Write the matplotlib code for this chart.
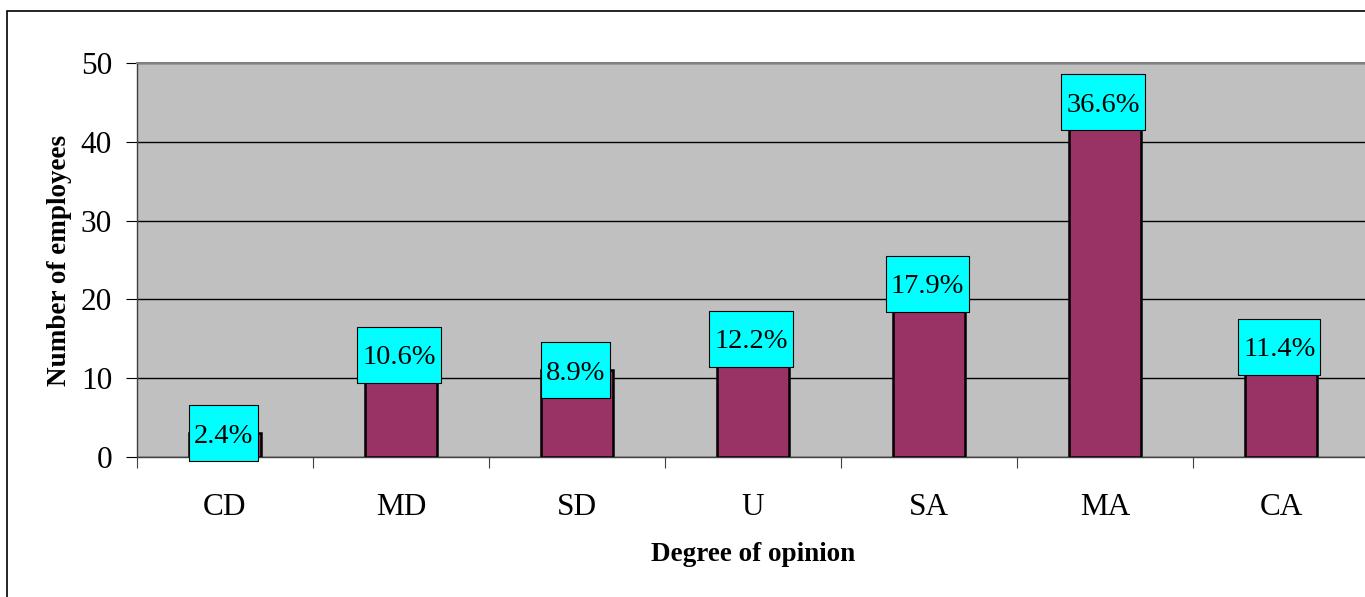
import matplotlib.pyplot as plt
from matplotlib.patches import Rectangle

# survey counts per degree of opinion (N = 123)
categories = ["CD", "MD", "SD", "U", "SA", "MA", "CA"]
counts = [3, 13, 11, 15, 22, 45, 14]
pct_labels = ["2.4%", "10.6%", "8.9%", "12.2%", "17.9%", "36.6%", "11.4%"]

plt.rcParams['font.family'] = ['Liberation Serif', 'DejaVu Serif']

W, H = 1365, 597
fig = plt.figure(figsize=(W / 100, H / 100), dpi=100)

# outer chart frame (cut off on the right and bottom)
fig.patches.append(Rectangle((7 / W, -0.1), 1.2, 1.1 - 11 / H,
                             transform=fig.transFigure, fill=False,
                             edgecolor="black", linewidth=1.2))

left, right, top, bottom = 137, 1369, 63, 457
ax = fig.add_axes([left / W, 1 - bottom / H, (right - left) / W, (bottom - top) / H])
ax.set_facecolor("#C0C0C0")

x = list(range(len(categories)))
ax.bar(x, counts, width=0.41, color="#993366", edgecolor="black",
       linewidth=1.8, zorder=3)

texts = []
for xi, c, lab in zip(x, counts, pct_labels):
    t = ax.text(xi - 0.01, c, lab, ha="center", va="center_baseline",
                fontsize=20.5, zorder=5)
    texts.append(t)

ax.set_xlim(-0.5, len(categories) - 0.5)
ax.set_ylim(0, 50)
ax.set_yticks([0, 10, 20, 30, 40, 50])
ax.yaxis.grid(True, color="black", linewidth=1.0, zorder=1)
ax.set_axisbelow(True)

ax.set_xticks(x)
ax.set_xticklabels(categories, fontsize=22.5)
ax.tick_params(axis="x", length=0, pad=26)
ax.set_xticks([i - 0.5 for i in range(len(categories) + 1)], minor=True)
ax.tick_params(axis="x", which="minor", length=8, width=0.8, color="#404040")
ax.tick_params(axis="y", labelsize=22.5, length=8, width=0.8, pad=10)

for s in ["left", "bottom"]:
    ax.spines[s].set_color("#404040")
    ax.spines[s].set_linewidth(1.0)
ax.spines["top"].set_color("#808080")
ax.spines["top"].set_linewidth(1.5)
ax.spines["right"].set_visible(False)

ax.set_ylabel("Number of employees", fontsize=19.5, fontweight="bold", labelpad=6)
ax.set_xlabel("Degree of opinion", fontsize=19.5, fontweight="bold", labelpad=14)

# cyan label boxes: fixed height, width from text extent
fig.canvas.draw()
inv = ax.transData.inverted()
for t, c in zip(texts, counts):
    bb = t.get_window_extent()
    cx = (bb.x0 + bb.x1) / 2
    _, cy = ax.transData.transform((0, c))
    half_w = bb.width / 2 + 5
    half_h = 28
    (x0, y0) = inv.transform((cx - half_w, cy - half_h))
    (x1, y1) = inv.transform((cx + half_w, cy + half_h))
    ax.add_patch(Rectangle((x0, y0), x1 - x0, y1 - y0, facecolor="#00FFFF",
                           edgecolor="black", linewidth=0.8, zorder=4,
                           clip_on=False))

fig.savefig("out.png", dpi=100)
